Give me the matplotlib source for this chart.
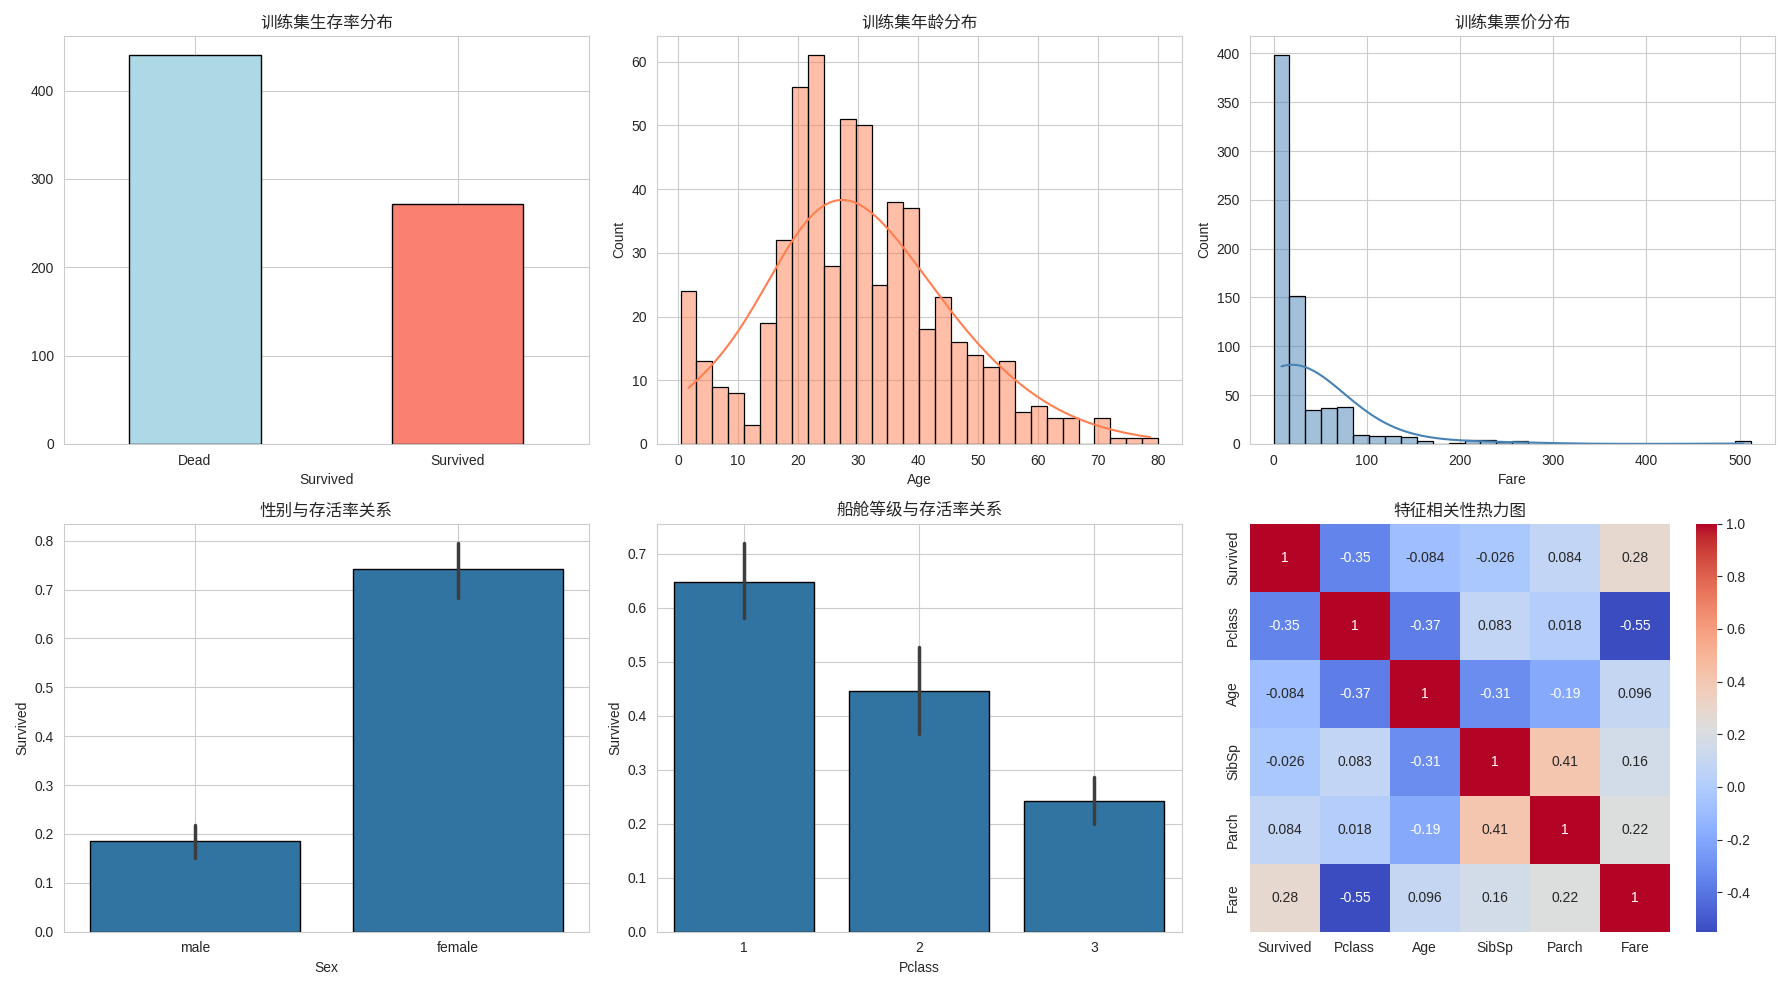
import numpy as np
import pandas as pd
import matplotlib
matplotlib.use("Agg")
import matplotlib.pyplot as plt
import seaborn as sns

sns.set_style("whitegrid")
plt.rcParams['font.family'] = ['Liberation Sans', 'Noto Sans CJK SC']
plt.rcParams['axes.unicode_minus'] = False

# dados
surv_labels = ['Dead', 'Survived']
surv_counts = [440, 272]

age_edges = np.linspace(0.42, 80, 31)
age_counts = [24, 13, 9, 8, 3, 19, 32, 56, 61, 28, 51, 50, 25, 38, 37,
              18, 23, 16, 14, 12, 13, 5, 6, 4, 4, 0, 4, 1, 1, 1]

fare_edges = np.linspace(0, 512.33, 31)
fare_counts = [398, 152, 35, 37, 38, 9, 8, 8, 7, 3, 0, 1, 4, 4, 2, 3,
               0, 0, 0, 0, 0, 0, 0, 0, 0, 0, 0, 0, 0, 3]

sex_labels = ['male', 'female']
sex_rate = [0.186, 0.742]
sex_ci = [(0.15, 0.218), (0.682, 0.795)]

pclass_labels = ['1', '2', '3']
pclass_rate = [0.648, 0.446, 0.242]
pclass_ci = [(0.582, 0.72), (0.366, 0.527), (0.2, 0.287)]

corr_cols = ['Survived', 'Pclass', 'Age', 'SibSp', 'Parch', 'Fare']
corr = np.array([
    [1, -0.35, -0.084, -0.026, 0.084, 0.28],
    [-0.35, 1, -0.37, 0.083, 0.018, -0.55],
    [-0.084, -0.37, 1, -0.31, -0.19, 0.096],
    [-0.026, 0.083, -0.31, 1, 0.41, 0.16],
    [0.084, 0.018, -0.19, 0.41, 1, 0.22],
    [0.28, -0.55, 0.096, 0.16, 0.22, 1],
])

fig, axes = plt.subplots(2, 3, figsize=(17.9, 9.9), dpi=100)

# sobrevivência
ax = axes[0, 0]
ax.bar(surv_labels, surv_counts, width=0.5, color=['lightblue', 'salmon'], edgecolor='black')
ax.set_xlim(-0.5, 1.5)
ax.set_xlabel('Survived')
ax.set_title('训练集生存率分布', fontsize=12)

def hist(ax, edges, counts, color, xlabel, title):
    mid = (edges[:-1] + edges[1:]) / 2
    df = pd.DataFrame({'v': mid, 'w': np.asarray(counts, dtype=float)})
    sns.histplot(data=df, x='v', weights='w', bins=list(edges), kde=True,
                 color=color, edgecolor='black', ax=ax)
    ax.set_xlabel(xlabel)
    ax.set_ylabel('Count')
    ax.set_title(title, fontsize=12)

hist(axes[0, 1], age_edges, age_counts, 'coral', 'Age', '训练集年龄分布')
hist(axes[0, 2], fare_edges, fare_counts, 'steelblue', 'Fare', '训练集票价分布')

def barra(ax, labels, rates, ci, xlabel, title):
    x = np.arange(len(labels))
    ax.bar(x, rates, width=0.8, color='#3274a1', edgecolor='black')
    for xi, (lo, hi) in zip(x, ci):
        ax.plot([xi, xi], [lo, hi], color='#3d3d3d', lw=2.5)
    ax.set_xticks(x)
    ax.set_xticklabels(labels)
    ax.set_xlim(-0.5, len(labels) - 0.5)
    ax.set_xlabel(xlabel)
    ax.set_ylabel('Survived')
    ax.set_title(title, fontsize=12)

barra(axes[1, 0], sex_labels, sex_rate, sex_ci, 'Sex', '性别与存活率关系')
barra(axes[1, 1], pclass_labels, pclass_rate, pclass_ci, 'Pclass', '船舱等级与存活率关系')

# mapa de calor
ax = axes[1, 2]
sns.heatmap(corr, annot=True, cmap='coolwarm', xticklabels=corr_cols,
            yticklabels=corr_cols, ax=ax)
ax.set_title('特征相关性热力图', fontsize=12)

plt.tight_layout()
plt.savefig('out.png')
